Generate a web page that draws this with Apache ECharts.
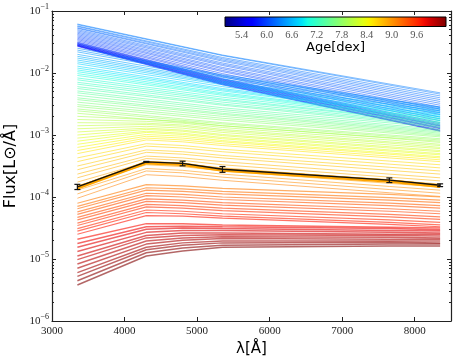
<!DOCTYPE html>
<html>
<head>
<meta charset="utf-8">
<script src="https://cdn.jsdelivr.net/npm/echarts@6/dist/echarts.min.js"></script>
<style>
html,body{margin:0;padding:0;background:#fff;}
#chart{width:458px;height:362px;}
</style>
</head>
<body>
<div id="chart"></div>
<script>
// ---------------- data ----------------
const AGE_MIN = 5.0, AGE_MAX = 10.3;
const xTicks = [3000, 4000, 5000, 6000, 7000, 8000];
const ageTicks = [5.4, 6.0, 6.6, 7.2, 7.8, 8.4, 9.0, 9.6];

// wavelengths sampled for the young (nearly straight) spectra
const waveYoung = [3350, 5350, 8350];
// wavelengths of the photometric bands
const waveBands = [3350, 4300, 4800, 5350, 7650, 8350];

const agesBlue = [5.650,5.675,5.700,5.725,5.750,5.775,5.800,5.825,5.850,5.875,5.900,5.925,5.950,5.975,6.000,6.025,6.050,6.075,6.100,6.125,6.150,6.175,6.200,6.225,6.250,6.275,6.300];
const fluxBlue = [
[2.69e-2,6.46e-3,1.15e-3],[2.75e-2,6.61e-3,1.17e-3],[2.75e-2,6.76e-3,1.20e-3],[2.82e-2,6.92e-3,1.26e-3],
[2.82e-2,7.08e-3,1.29e-3],[2.88e-2,7.24e-3,1.32e-3],[2.95e-2,7.41e-3,1.38e-3],[2.95e-2,7.59e-3,1.41e-3],
[3.02e-2,7.76e-3,1.45e-3],[3.09e-2,7.94e-3,1.51e-3],[3.16e-2,8.13e-3,1.58e-3],[3.31e-2,8.71e-3,1.70e-3],
[3.47e-2,9.12e-3,1.82e-3],[3.63e-2,9.77e-3,1.95e-3],[3.80e-2,1.05e-2,2.14e-3],[3.98e-2,1.10e-2,2.29e-3],
[4.17e-2,1.17e-2,2.45e-3],[4.37e-2,1.23e-2,2.63e-3],[4.57e-2,1.32e-2,2.82e-3],[4.79e-2,1.38e-2,3.02e-3],
[5.01e-2,1.45e-2,3.24e-3],[5.25e-2,1.55e-2,3.47e-3],[5.37e-2,1.62e-2,3.72e-3],[5.62e-2,1.70e-2,3.98e-3],
[5.75e-2,1.78e-2,4.27e-3],[6.03e-2,1.91e-2,4.57e-3],[6.17e-2,1.95e-2,4.79e-3]
];

const agesCyan = [6.35,6.40,6.45,6.50,6.55,6.60,6.65,6.70,6.75,6.80,6.85,6.90,6.95,7.00,7.05,7.10,7.15,7.20];
const fluxCyan = [
[2.51e-2,9.33e-3,2.82e-3],[2.34e-2,8.91e-3,2.75e-3],[2.19e-2,8.51e-3,2.63e-3],[2.00e-2,7.94e-3,2.57e-3],
[1.86e-2,7.41e-3,2.45e-3],[1.74e-2,7.08e-3,2.40e-3],[1.62e-2,6.76e-3,2.29e-3],[1.51e-2,6.46e-3,2.24e-3],
[1.41e-2,6.03e-3,2.14e-3],[1.29e-2,5.62e-3,2.09e-3],[1.20e-2,5.37e-3,2.00e-3],[1.12e-2,5.13e-3,1.95e-3],
[1.05e-2,4.79e-3,1.86e-3],[9.77e-3,4.57e-3,1.82e-3],[9.12e-3,4.37e-3,1.74e-3],[8.32e-3,4.07e-3,1.70e-3],
[7.76e-3,3.80e-3,1.62e-3],[7.08e-3,3.63e-3,1.58e-3]
];

const agesGreen = [7.25,7.30,7.35,7.40,7.45,7.50,7.55,7.60,7.65,7.70,7.75,7.80,7.85,7.90];
const fluxGreen = [
[6.61e-3,3.39e-3,1.51e-3],[6.03e-3,3.16e-3,1.45e-3],[5.62e-3,3.02e-3,1.38e-3],[5.13e-3,2.75e-3,1.32e-3],
[4.79e-3,2.57e-3,1.23e-3],[4.37e-3,2.40e-3,1.17e-3],[3.98e-3,2.24e-3,1.12e-3],[3.72e-3,2.14e-3,1.07e-3],
[3.39e-3,2.00e-3,1.02e-3],[3.09e-3,1.86e-3,9.77e-4],[2.88e-3,1.74e-3,9.33e-4],[2.63e-3,1.58e-3,8.71e-4],
[2.45e-3,1.51e-3,8.32e-4],[2.24e-3,1.41e-3,7.94e-4]
];

const agesYellow = [7.95,8.00,8.05,8.10,8.15,8.20,8.25,8.30,8.35,8.40,8.45,8.50];
const fluxYellow = [
[2.00e-3,1.78e-3,1.66e-3,1.41e-3,8.91e-4,7.59e-4],
[1.78e-3,1.66e-3,1.55e-3,1.32e-3,8.32e-4,7.08e-4],
[1.58e-3,1.55e-3,1.45e-3,1.23e-3,7.76e-4,6.76e-4],
[1.41e-3,1.48e-3,1.38e-3,1.17e-3,7.41e-4,6.31e-4],
[1.26e-3,1.38e-3,1.29e-3,1.10e-3,6.92e-4,6.03e-4],
[1.12e-3,1.29e-3,1.20e-3,1.02e-3,6.46e-4,5.62e-4],
[1.00e-3,1.23e-3,1.15e-3,9.77e-4,6.17e-4,5.37e-4],
[8.91e-4,1.15e-3,1.07e-3,9.12e-4,5.75e-4,5.01e-4],
[7.94e-4,1.10e-3,1.02e-3,8.71e-4,5.50e-4,4.79e-4],
[7.08e-4,1.02e-3,9.55e-4,8.13e-4,5.13e-4,4.47e-4],
[6.31e-4,9.55e-4,8.91e-4,7.76e-4,4.90e-4,4.27e-4],
[5.62e-4,8.91e-4,8.32e-4,7.24e-4,4.57e-4,3.98e-4]
];

const agesOrange = [8.55,8.60,8.65,8.70,8.75,8.80,8.85,8.90,8.95,9.00,9.05,9.10];
const fluxOrange = [
[5.01e-4,8.32e-4,7.76e-4,6.76e-4,4.27e-4,3.72e-4],
[4.27e-4,7.24e-4,6.76e-4,5.89e-4,3.80e-4,3.31e-4],
[3.72e-4,6.61e-4,6.17e-4,5.37e-4,3.39e-4,2.95e-4],
[3.16e-4,5.75e-4,5.37e-4,4.68e-4,3.02e-4,2.63e-4],
[2.75e-4,5.25e-4,4.90e-4,4.27e-4,2.69e-4,2.34e-4],
[2.34e-4,4.57e-4,4.27e-4,3.72e-4,2.34e-4,2.04e-4],
[2.04e-4,4.17e-4,3.89e-4,3.31e-4,2.09e-4,1.82e-4],
[1.74e-4,3.63e-4,3.39e-4,2.95e-4,1.86e-4,1.62e-4],
[1.51e-4,3.31e-4,3.09e-4,2.63e-4,1.66e-4,1.45e-4],
[1.29e-4,2.88e-4,2.69e-4,2.34e-4,1.48e-4,1.29e-4],
[1.12e-4,2.63e-4,2.45e-4,2.09e-4,1.32e-4,1.15e-4],
[9.55e-5,2.29e-4,2.14e-4,1.86e-4,1.17e-4,1.02e-4]
];

const agesRed = [9.15,9.20,9.25,9.30,9.35,9.40,9.45,9.50,9.55,9.60,9.65,9.70];
const fluxRed = [
[7.94e-5,1.58e-4,1.51e-4,1.38e-4,1.10e-4,1.00e-4],
[7.08e-5,1.41e-4,1.35e-4,1.23e-4,9.77e-5,8.91e-5],
[6.46e-5,1.29e-4,1.23e-4,1.12e-4,8.91e-5,8.13e-5],
[5.75e-5,1.15e-4,1.10e-4,1.00e-4,7.94e-5,7.24e-5],
[5.25e-5,1.05e-4,1.00e-4,9.12e-5,7.24e-5,6.61e-5],
[4.68e-5,9.33e-5,8.91e-5,8.13e-5,6.46e-5,5.89e-5],
[4.27e-5,8.51e-5,8.13e-5,7.41e-5,5.89e-5,5.37e-5],
[3.80e-5,7.59e-5,7.24e-5,6.61e-5,5.25e-5,4.79e-5],
[3.47e-5,6.92e-5,6.61e-5,6.03e-5,4.79e-5,4.37e-5],
[3.09e-5,6.17e-5,5.89e-5,5.37e-5,4.27e-5,3.89e-5],
[2.82e-5,5.62e-5,5.37e-5,4.90e-5,3.89e-5,3.55e-5],
[2.51e-5,5.01e-5,4.90e-5,4.57e-5,3.63e-5,3.31e-5]
];

const agesDarkRed = [9.75,9.80,9.85,9.90,9.95,10.00,10.05,10.10,10.15,10.20,10.25,10.30];
const fluxDarkRed = [
[2.09e-5,3.72e-5,3.72e-5,3.55e-5,3.24e-5,3.16e-5],
[1.78e-5,3.31e-5,3.39e-5,3.31e-5,3.09e-5,2.95e-5],
[1.55e-5,3.02e-5,3.16e-5,3.09e-5,2.88e-5,2.82e-5],
[1.32e-5,2.69e-5,2.88e-5,2.88e-5,2.69e-5,2.63e-5],
[1.12e-5,2.40e-5,2.63e-5,2.63e-5,2.51e-5,2.51e-5],
[9.77e-6,2.19e-5,2.40e-5,2.45e-5,2.40e-5,2.34e-5],
[8.32e-6,1.95e-5,2.19e-5,2.29e-5,2.24e-5,2.19e-5],
[7.08e-6,1.74e-5,2.00e-5,2.14e-5,2.09e-5,2.09e-5],
[6.03e-6,1.55e-5,1.82e-5,1.95e-5,1.95e-5,1.95e-5],
[5.25e-6,1.41e-5,1.66e-5,1.82e-5,1.86e-5,1.82e-5],
[4.47e-6,1.26e-5,1.51e-5,1.66e-5,1.74e-5,1.74e-5],
[3.80e-6,1.12e-5,1.35e-5,1.55e-5,1.62e-5,1.62e-5]
];

// observed photometry and best-fitting model
const obsFlux = [1.46e-4, 3.69e-4, 3.48e-4, 2.80e-4, 1.87e-4, 1.55e-4];
const obsErr  = [1.4e-5, 6e-6, 3.0e-5, 3.0e-5, 1.6e-5, 8e-6];
const bestFitFlux = [1.40e-4, 3.58e-4, 3.38e-4, 2.72e-4, 1.81e-4, 1.49e-4];

// ---------------- colour map (matplotlib "jet") ----------------
const JET = {
  r: [[0,0],[0.35,0],[0.66,1],[0.89,1],[1,0.5]],
  g: [[0,0],[0.125,0],[0.375,1],[0.64,1],[0.91,0],[1,0]],
  b: [[0,0.5],[0.11,1],[0.34,1],[0.65,0],[1,0]]
};
function segInterp(seg, t) {
  for (let i = 1; i < seg.length; i++) {
    if (t <= seg[i][0]) {
      const a = seg[i-1], b = seg[i];
      return a[1] + (b[1]-a[1]) * (t - a[0]) / (b[0] - a[0]);
    }
  }
  return seg[seg.length-1][1];
}
function jet(t) {
  t = Math.max(0, Math.min(1, t));
  return 'rgb(' + Math.round(255*segInterp(JET.r,t)) + ',' + Math.round(255*segInterp(JET.g,t)) + ',' + Math.round(255*segInterp(JET.b,t)) + ')';
}
function ageColor(age) { return jet((age - AGE_MIN) / (AGE_MAX - AGE_MIN)); }

// ---------------- series ----------------
const series = [];
function addGroup(ages, fluxes, waves, width, opacity) {
  ages.forEach((age, k) => {
    series.push({
      type: 'line', xAxisIndex: 0, yAxisIndex: 0,
      data: waves.map((w, i) => [w, fluxes[k][i]]),
      symbol: 'none', silent: true, animation: false,
      lineStyle: { color: ageColor(age), width: width, opacity: opacity },
      z: 2
    });
  });
}
addGroup(agesBlue, fluxBlue, waveYoung, 1, 0.5);
addGroup(agesCyan, fluxCyan, waveYoung, 1, 0.55);
addGroup(agesGreen, fluxGreen, waveYoung, 1, 0.55);
addGroup(agesYellow, fluxYellow, waveBands, 1, 0.55);
addGroup(agesOrange, fluxOrange, waveBands, 1, 0.55);
addGroup(agesRed, fluxRed, waveBands, 1.2, 0.6);
addGroup(agesDarkRed, fluxDarkRed, waveBands, 1.5, 0.6);

series.push({
  type: 'line', xAxisIndex: 0, yAxisIndex: 0,
  data: waveBands.map((w, i) => [w, bestFitFlux[i]]),
  symbol: 'none', silent: true, animation: false,
  lineStyle: { color: '#ffa500', width: 3.5 }, z: 5
});
series.push({
  type: 'line', xAxisIndex: 0, yAxisIndex: 0,
  data: waveBands.map((w, i) => [w, obsFlux[i]]),
  symbol: 'none', silent: true, animation: false,
  lineStyle: { color: '#111', width: 1.4 }, z: 6
});
series.push({
  type: 'custom', xAxisIndex: 0, yAxisIndex: 0, silent: true, animation: false, z: 7,
  data: waveBands.map((w, i) => [w, obsFlux[i] - obsErr[i], obsFlux[i] + obsErr[i]]),
  encode: { x: 0, y: [1, 2] },
  renderItem: function (params, api) {
    const lo = api.coord([api.value(0), api.value(1)]);
    const hi = api.coord([api.value(0), api.value(2)]);
    const c = 3;
    const st = { stroke: '#111', lineWidth: 1.2 };
    return { type: 'group', children: [
      { type: 'line', shape: { x1: lo[0], y1: lo[1], x2: hi[0], y2: hi[1] }, style: st },
      { type: 'line', shape: { x1: lo[0]-c, y1: lo[1], x2: lo[0]+c, y2: lo[1] }, style: st },
      { type: 'line', shape: { x1: hi[0]-c, y1: hi[1], x2: hi[0]+c, y2: hi[1] }, style: st }
    ]};
  }
});

// colour bar
const gradStops = [];
for (let i = 0; i <= 40; i++) gradStops.push({ offset: i/40, color: jet(i/40) });
series.push({
  type: 'custom', xAxisIndex: 2, yAxisIndex: 4, silent: true, animation: false, clip: false, z: 10,
  data: [[AGE_MIN, AGE_MAX]],
  encode: { x: [0, 1] },
  renderItem: function (params, api) {
    const a = api.coord([api.value(0), 0]);
    const b = api.coord([api.value(1), 1]);
    return { type: 'rect',
      shape: { x: a[0], y: b[1], width: b[0]-a[0], height: a[1]-b[1] },
      style: { fill: new echarts.graphic.LinearGradient(0, 0, 1, 0, gradStops), stroke: '#000', lineWidth: 1 } };
  }
});

// minor tick positions for the log axis (in log10 units)
const minorLog = [];
for (let e = -6; e < -1; e++) for (let k = 2; k <= 9; k++) minorLog.push(e + Math.log10(k));

const serif = 'Liberation Serif';
const sans = 'DejaVu Sans';
const lineCol = '#222';

const option = {
  backgroundColor: '#fff',
  animation: false,
  grid: [
    { left: 52, right: 7, top: 11, bottom: 41, containLabel: false, outerBoundsMode: 'none' },
    { left: 225, width: 221, top: 17, height: 9.5, containLabel: false, outerBoundsMode: 'none' }
  ],
  xAxis: [
    { gridIndex: 0, type: 'value', position: 'bottom', min: 3000, max: 8500, interval: 1000,
      axisLine: { show: true, onZero: false, lineStyle: { color: lineCol, width: 1.2 } },
      axisTick: { show: true, inside: true, length: 4, lineStyle: { color: lineCol } },
      axisLabel: { show: true, margin: 5, color: '#222', fontFamily: serif, fontSize: 11,
        customValues: xTicks, formatter: v => String(v) },
      splitLine: { show: false },
      name: 'λ[Å]', nameLocation: 'middle', nameGap: 20,
      nameTextStyle: { fontFamily: sans, fontSize: 15, color: '#000' } },
    { gridIndex: 0, type: 'value', position: 'top', min: 3000, max: 8500, interval: 1000,
      axisLine: { show: true, onZero: false, lineStyle: { color: lineCol, width: 1.2 } },
      axisTick: { show: true, inside: true, length: 4, lineStyle: { color: lineCol } },
      axisLabel: { show: false }, splitLine: { show: false } },
    { gridIndex: 1, type: 'value', position: 'bottom', min: AGE_MIN, max: AGE_MAX,
      axisLine: { show: false }, axisTick: { show: false }, splitLine: { show: false },
      axisLabel: { show: true, margin: 3, color: '#555', fontFamily: serif, fontSize: 10.5,
        customValues: ageTicks, formatter: v => Number(v).toFixed(1) },
      name: 'Age[dex]', nameLocation: 'middle', nameGap: 13,
      nameTextStyle: { fontFamily: sans, fontSize: 13, color: '#000' } }
  ],
  yAxis: [
    { gridIndex: 0, type: 'log', logBase: 10, position: 'left', min: 1e-6, max: 1e-1, interval: 1,
      axisLine: { show: true, onZero: false, lineStyle: { color: lineCol, width: 1.2 } },
      axisTick: { show: true, inside: true, length: 4, lineStyle: { color: lineCol } },
      splitLine: { show: false },
      axisLabel: { show: true, margin: 3, color: '#222',
        formatter: v => '{b|10}{s|−' + Math.abs(Math.round(Math.log10(v))) + '}',
        rich: {
          b: { fontFamily: serif, fontSize: 11, color: '#222', lineHeight: 16 },
          s: { fontFamily: serif, fontSize: 8, color: '#222', verticalAlign: 'top', lineHeight: 8 }
        } },
      name: 'Flux[L⊙/Å]', nameLocation: 'middle', nameGap: 29,
      nameTextStyle: { fontFamily: sans, fontSize: 16, color: '#000' } },
    { gridIndex: 0, type: 'log', logBase: 10, position: 'right', min: 1e-6, max: 1e-1, interval: 1,
      axisLine: { show: true, onZero: false, lineStyle: { color: lineCol, width: 1.2 } },
      axisTick: { show: true, inside: true, length: 4, lineStyle: { color: lineCol } },
      axisLabel: { show: false }, splitLine: { show: false } },
    { gridIndex: 0, type: 'value', position: 'left', min: -6, max: -1,
      axisLine: { show: false }, splitLine: { show: false }, axisLabel: { show: false },
      axisTick: { show: true, inside: true, length: 2, customValues: minorLog, lineStyle: { color: lineCol } } },
    { gridIndex: 0, type: 'value', position: 'right', min: -6, max: -1,
      axisLine: { show: false }, splitLine: { show: false }, axisLabel: { show: false },
      axisTick: { show: true, inside: true, length: 2, customValues: minorLog, lineStyle: { color: lineCol } } },
    { gridIndex: 1, type: 'value', min: 0, max: 1, show: false }
  ],
  series: series
};

const chart = echarts.init(document.getElementById('chart'), null, { renderer: 'canvas' });
chart.setOption(option);
</script>
</body>
</html>
